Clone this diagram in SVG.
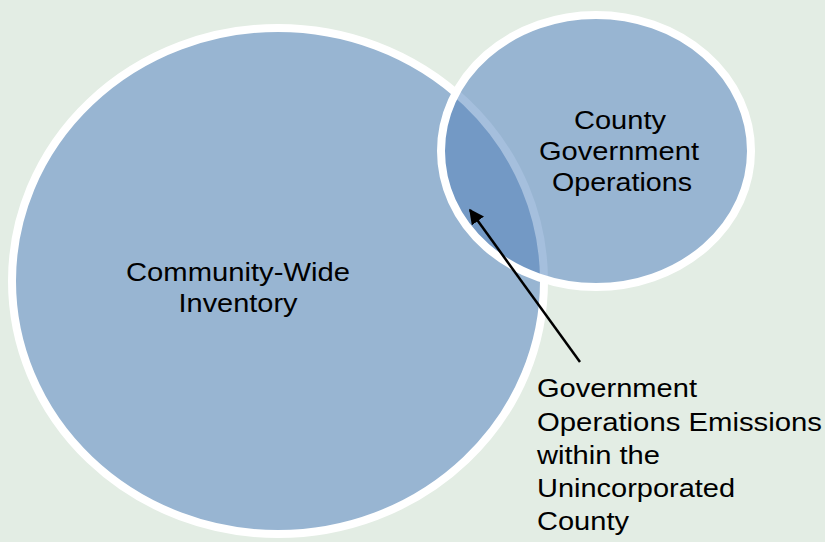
<svg xmlns="http://www.w3.org/2000/svg" width="825" height="542" viewBox="0 0 825 542">
<style>
.lbl{font-family:"Liberation Sans",Arial,sans-serif;font-size:26px;fill:#000}
.c{text-anchor:middle}
</style>
<defs>
<clipPath id="smallClip"><ellipse cx="596" cy="151" rx="155" ry="136"/></clipPath>
<marker id="ah" viewBox="0 0 10 10" refX="9" refY="5" markerWidth="6" markerHeight="6" orient="auto" markerUnits="strokeWidth">
<path d="M0,0 L10,5 L0,10 z" fill="#000"/>
</marker>
</defs>
<rect width="825" height="542" fill="#e3ede4"/>
<g id="community">
<ellipse cx="278" cy="281" rx="266" ry="253" fill="#98b5d2" stroke="#fff" stroke-width="8"/>
</g>
<g id="county">
<ellipse cx="596" cy="151" rx="155" ry="136" fill="#98b5d2"/>
<g clip-path="url(#smallClip)">
<ellipse cx="278" cy="281" rx="266" ry="253" fill="#7399c5" stroke="#a5bfdd" stroke-width="8"/>
</g>
<ellipse cx="596" cy="151" rx="155" ry="136" fill="none" stroke="#fff" stroke-width="8"/>
</g>
<g id="connectors">
<line x1="580" y1="362" x2="470" y2="210" stroke="#000" stroke-width="2.5" marker-end="url(#ah)"/>
</g>
<g id="label-county">
<text class="lbl c" x="620" y="129" textLength="92" lengthAdjust="spacingAndGlyphs">County</text>
<text class="lbl c" x="619" y="160" textLength="160" lengthAdjust="spacingAndGlyphs">Government</text>
<text class="lbl c" x="622" y="191" textLength="140" lengthAdjust="spacingAndGlyphs">Operations</text>
</g>
<g id="label-community">
<text class="lbl c" x="238" y="281" textLength="224" lengthAdjust="spacingAndGlyphs">Community-Wide</text>
<text class="lbl c" x="238" y="312" textLength="119" lengthAdjust="spacingAndGlyphs">Inventory</text>
</g>
<g id="label-overlap">
<text class="lbl" x="537" y="397" textLength="160" lengthAdjust="spacingAndGlyphs">Government</text>
<text class="lbl" x="537" y="431" textLength="285" lengthAdjust="spacingAndGlyphs">Operations Emissions</text>
<text class="lbl" x="537" y="464" textLength="123" lengthAdjust="spacingAndGlyphs">within the</text>
<text class="lbl" x="537" y="497" textLength="198" lengthAdjust="spacingAndGlyphs">Unincorporated</text>
<text class="lbl" x="537" y="530" textLength="92" lengthAdjust="spacingAndGlyphs">County</text>
</g>
</svg>
